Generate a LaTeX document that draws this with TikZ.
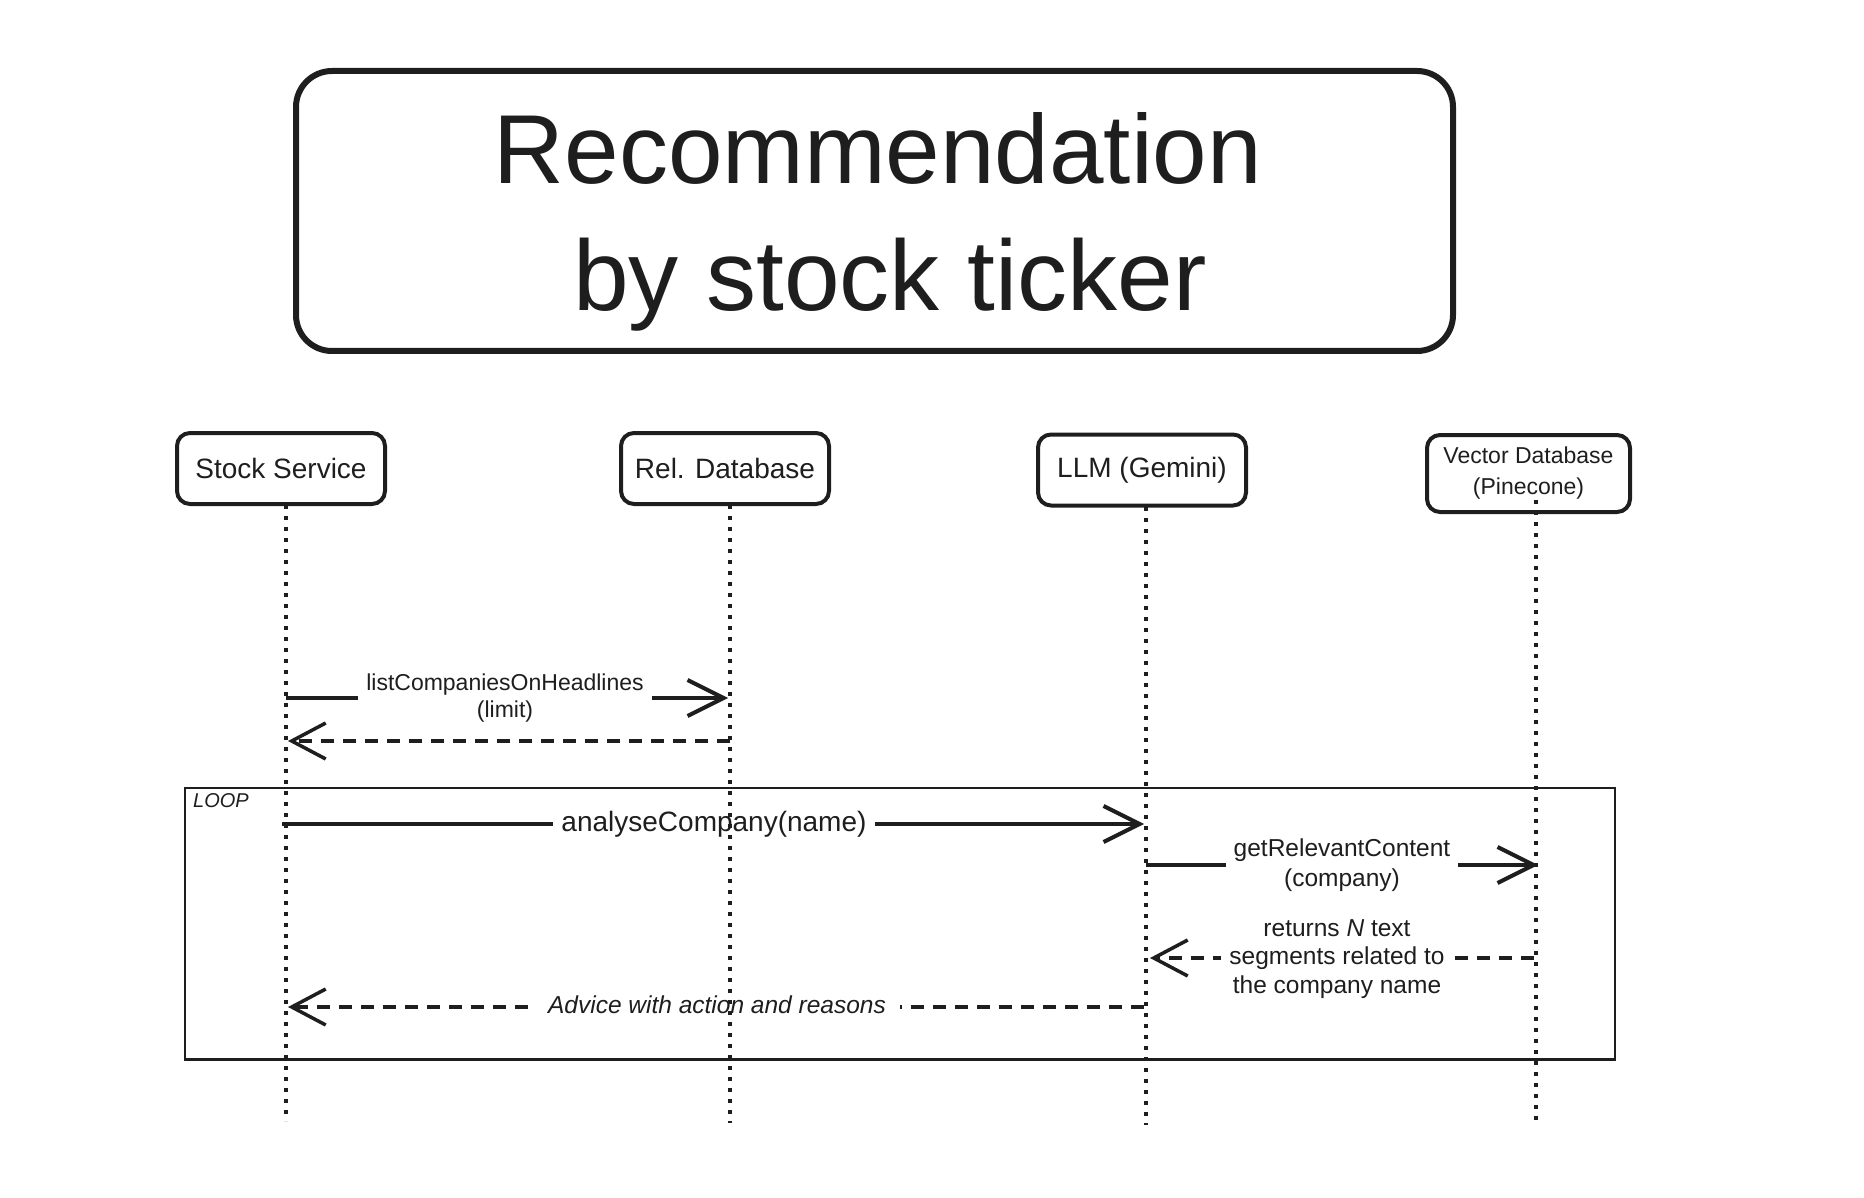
\documentclass[tikz,border=0pt]{standalone}
\usepackage{fontspec}
\setmainfont{Liberation Sans}
\usetikzlibrary{arrows.meta}
\definecolor{ink}{HTML}{1E1E1E}
\begin{document}
\begin{tikzpicture}[x=1pt,y=-1pt,
  titlebox/.style={draw=ink, line width=6pt, rounded corners=36pt, minimum width=1157pt, minimum height=280pt, inner sep=0pt},
  titletext/.style={text=ink, font=\fontsize{98}{110}\selectfont, anchor=base, inner sep=0pt},
  actor/.style={draw=ink, line width=4pt, rounded corners=13pt, minimum width=208pt, minimum height=71pt, inner sep=0pt, text=ink, font=\fontsize{28}{32}\selectfont, align=center},
  lifeline/.style={draw=ink, line width=3.5pt, dash pattern=on 4pt off 7pt},
  loopbox/.style={draw=ink, line width=1.8pt},
  msg/.style={draw=ink, line width=4pt, -{Straight Barb[length=36pt,width=36pt]}},
  reply/.style={draw=ink, line width=3.5pt, dash pattern=on 13pt off 9pt, -{Straight Barb[length=34pt,width=36pt]}},
  lbl/.style={fill=white, text=ink, inner xsep=8pt, inner ysep=1pt, align=center},
]
\path[use as bounding box] (0,0) rectangle (1864,1198);

% title
\node[titlebox] (tb) at (874.5,211) {};
\node[titletext] (t1) at (878,184) {Recommendation};
\node[titletext, font=\fontsize{100}{110}\selectfont] (t2) at (890,311) {by stock ticker};

% participants
\node[actor] (ss) at (281,468.5) {Stock Service};
\node[actor] (rdb) at (725,468.5) {Rel. Database};
\node[actor] (llm) at (1142,470) {LLM (Gemini)};
\node[actor, minimum width=203pt, minimum height=77pt, font=\fontsize{23}{31}\selectfont] (vdb) at (1528.5,473.5) {Vector Database\\(Pinecone)};

% loop frame
\node[loopbox, minimum width=1430pt, minimum height=272pt, inner sep=0pt, anchor=north west] (loop) at (184,787) {};
\node[text=ink, font=\fontsize{20}{24}\selectfont\itshape, anchor=west, inner sep=0pt] (looplbl) at (193,801) {LOOP};
\draw[ink, line width=1.2pt] ([yshift=2pt]loop.south west) -- ([yshift=2pt]loop.south east);

% lifeline ends
\coordinate (ssT) at (286,505);   \coordinate (ssB) at (286,1121);
\coordinate (rdbT) at (730,505);  \coordinate (rdbB) at (730,1123);
\coordinate (llmT) at (1146,507); \coordinate (llmB) at (1146,1125);
\coordinate (vdbT) at (1536,500); \coordinate (vdbB) at (1536,1121);

% message ends
\coordinate (m1a) at (286,698);  \coordinate (m1b) at (728,698);
\coordinate (m2a) at (730,741);  \coordinate (m2b) at (288,741);
\coordinate (m3a) at (282,824);  \coordinate (m3b) at (1144,824);
\coordinate (m4a) at (1146,865); \coordinate (m4b) at (1538,865);
\coordinate (m5a) at (1534,958); \coordinate (m5b) at (1150,958);
\coordinate (m6a) at (1144,1007);\coordinate (m6b) at (288,1007);

% messages
\draw[msg] (m1a) -- (m1b);
\draw[reply] (m2a) -- (m2b);
\draw[msg] (m3a) -- (m3b);
\draw[msg] (m4a) -- (m4b);
\draw[reply] (m5a) -- (m5b);
\draw[reply] (m6a) -- (m6b);

% labels
\node[lbl, font=\fontsize{23}{27}\selectfont] (l1) at (505,698) {listCompaniesOnHeadlines\\(limit)};
\node[lbl, font=\fontsize{28}{32}\selectfont] (l3) at (714,824) {analyseCompany(name)};
\node[lbl, font=\fontsize{24.5}{30}\selectfont] (l4) at (1342,865) {getRelevantContent\\(company)};
\node[lbl, font=\fontsize{24.5}{28.5}\selectfont] (l5) at (1337,959) {returns \textit{N} text\\segments related to\\the company name};
\node[lbl, font=\fontsize{24.5}{27}\selectfont\itshape, inner xsep=14pt] (l6) at (717,1005) {Advice with action and reasons};

% lifelines
\draw[lifeline] (ssT) -- (ssB);
\draw[lifeline] (rdbT) -- (rdbB);
\draw[lifeline] (llmT) -- (llmB);
\draw[lifeline] (vdbT) -- (vdbB);
\end{tikzpicture}
\end{document}
